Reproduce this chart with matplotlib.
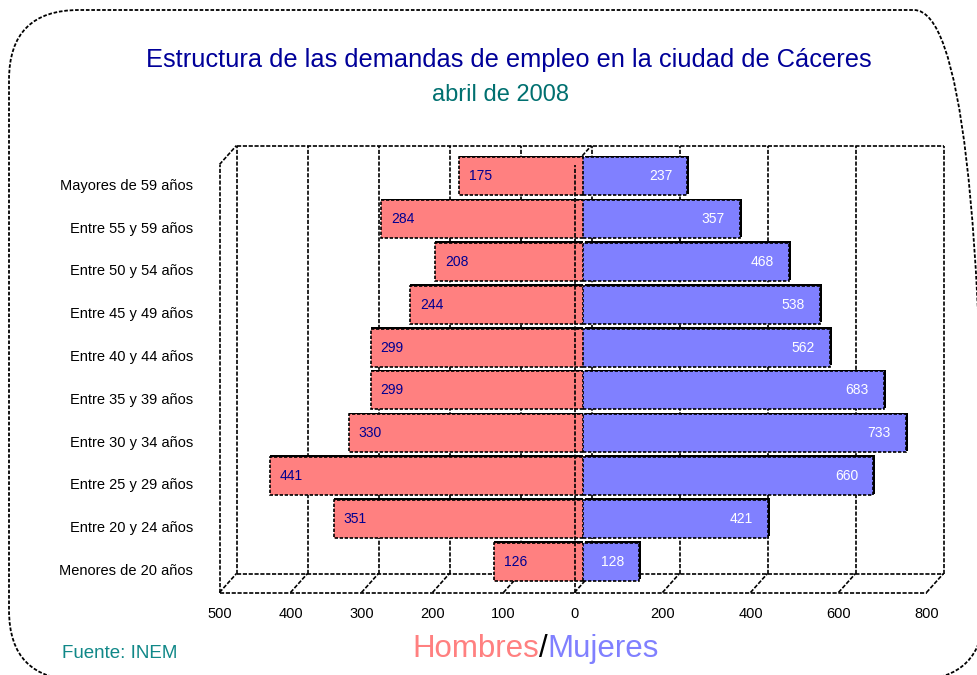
import matplotlib
matplotlib.use('Agg')
import matplotlib.pyplot as plt
from matplotlib.patches import FancyBboxPatch
from matplotlib.transforms import ScaledTranslation

plt.rcParams['font.family'] = ['Liberation Sans', 'DejaVu Sans']

# datos (de abajo hacia arriba)
grupos = ['Menores de 20 años', 'Entre 20 y 24 años', 'Entre 25 y 29 años',
          'Entre 30 y 34 años', 'Entre 35 y 39 años', 'Entre 40 y 44 años',
          'Entre 45 y 49 años', 'Entre 50 y 54 años', 'Entre 55 y 59 años',
          'Mayores de 59 años']
hombres = [126, 351, 441, 330, 299, 299, 244, 208, 284, 175]
mujeres = [128, 421, 660, 733, 683, 562, 538, 468, 357, 237]
ticks_h = [500, 400, 300, 200, 100, 0]
ticks_m = [0, 200, 400, 600, 800]

W, H = 978, 675
col_h = '#FF8080'
col_m = '#8080FF'
DX, DY = 8.5, 9.5  # profundidad del efecto 3D (px)
ls_frame = (0, (2.5, 1))

fig = plt.figure(figsize=(W / 100, H / 100), dpi=100)
fig.patch.set_facecolor('white')

# fondo en coordenadas de pixel
bg = fig.add_axes([0, 0, 1, 1], zorder=0)
bg.set_xlim(0, W)
bg.set_ylim(0, H)
bg.axis('off')

# marco redondeado
r = 70
bg.add_patch(FancyBboxPatch((9 + r, -5 + r), 975 - 2 * r, 670 - 2 * r,
                            boxstyle='round,pad=%d' % r, fc='none', ec='black',
                            lw=1.3, ls=(0, (2, 1)), clip_on=False))

y0 = 1 - 583 / H
hgt = 428 / H
ax_h = fig.add_axes([228 / W, y0, 355 / W, hgt], zorder=2)
ax_m = fig.add_axes([583 / W, y0, 352 / W, hgt], zorder=2)
for ax in (ax_h, ax_m):
    ax.set_ylim(-0.5, 9.5)
    ax.axis('off')
    ax.patch.set_alpha(0)
ax_h.set_xlim(500, 0)
ax_m.set_xlim(0, 800)


def P(ax, x, y, d):
    X, Y = ax.transData.transform((x, y))
    return X + d * DX, Y + d * DY


def seg(a, b, **kw):
    bg.plot([a[0], b[0]], [a[1], b[1]], color='black', lw=1.2, ls=ls_frame,
            solid_capstyle='butt', **kw)


# pared del fondo
seg(P(ax_h, 500, 9.5, 1), P(ax_m, 800, 9.5, 1))
seg(P(ax_h, 500, -0.5, 1), P(ax_m, 800, -0.5, 1))
for t in ticks_h:
    seg(P(ax_h, t, -0.5, 1), P(ax_h, t, 9.5, 1))
for t in ticks_m[1:]:
    seg(P(ax_m, t, -0.5, 1), P(ax_m, t, 9.5, 1))
# suelo
seg(P(ax_h, 500, -0.5, -1), P(ax_m, 800, -0.5, -1))
for t in ticks_h:
    seg(P(ax_h, t, -0.5, -1), P(ax_h, t, -0.5, 1))
for t in ticks_m[1:]:
    seg(P(ax_m, t, -0.5, -1), P(ax_m, t, -0.5, 1))
# pared izquierda
seg(P(ax_h, 500, -0.5, -1), P(ax_h, 500, 9.5, -1))
seg(P(ax_h, 500, 9.5, -1), P(ax_h, 500, 9.5, 1))
seg(P(ax_h, 0, 9.5, -1), P(ax_h, 0, 9.5, 1))

# barras
y = list(range(len(grupos)))
sh = ScaledTranslation(0.02, 0.015, fig.dpi_scale_trans)
ax_h.barh(y, hombres, height=0.89, color='black',
          transform=ax_h.transData + ScaledTranslation(0, 0.015, fig.dpi_scale_trans),
          zorder=1)
ax_m.barh(y, mujeres, height=0.89, color='black', transform=ax_m.transData + sh, zorder=1)
ax_h.barh(y, hombres, height=0.89, color=col_h, edgecolor='black', lw=1.2,
          ls=(0, (2, 1)), zorder=2)
ax_m.barh(y, mujeres, height=0.89, color=col_m, edgecolor='black', lw=1.2,
          ls=(0, (2, 1)), zorder=2)

# linea del cero (frontal)
f = ScaledTranslation(-DX / 100, -DY / 100, fig.dpi_scale_trans)
ax_m.plot([0, 0], [-0.5, 9.5], color='black', lw=1.2, ls=ls_frame,
          transform=ax_m.transData + f, clip_on=False, zorder=3)

# etiquetas de valores
off_h = ScaledTranslation(0.10, 0, fig.dpi_scale_trans)
off_m = ScaledTranslation(-0.15, 0, fig.dpi_scale_trans)
for i in y:
    ax_h.text(hombres[i], i, str(hombres[i]), ha='left', va='center',
              fontsize=10, color='#000090', transform=ax_h.transData + off_h,
              zorder=4)
    ax_m.text(mujeres[i], i, str(mujeres[i]), ha='right', va='center',
              fontsize=10, color='white', transform=ax_m.transData + off_m,
              zorder=4)

# etiquetas de categorias
for i, g in enumerate(grupos):
    xx, yy = P(ax_h, 500, i, -1)
    bg.text(193, yy, g, ha='right', va='center', fontsize=10.5,
            color='black')

# etiquetas del eje
for t in ticks_h:
    xx, yy = P(ax_h, t, -0.5, -1)
    bg.text(xx, yy - 22, str(t), ha='center', va='center', fontsize=10.5)
for t in ticks_m[1:]:
    xx, yy = P(ax_m, t, -0.5, -1)
    bg.text(xx, yy - 22, str(t), ha='center', va='center', fontsize=10.5)

# titulos
bg.text(509, H - 60, 'Estructura de las demandas de empleo en la ciudad de Cáceres',
        ha='center', va='center', fontsize=18.3, color='#000099')
bg.text(500, H - 95, 'abril de 2008', ha='center', va='center', fontsize=17,
        color='#007070')
bg.text(62, H - 653, 'Fuente: INEM', ha='left', va='center', fontsize=13.5,
        color='#108888')

bg.text(539, H - 657, 'Hombres', ha='right', va='baseline', fontsize=22.5,
        color=col_h)
bg.text(543, H - 657, '/', ha='center', va='baseline', fontsize=22.5,
        color='black')
bg.text(547.5, H - 657, 'Mujeres', ha='left', va='baseline', fontsize=22.5,
        color=col_m)

fig.savefig('out.png', dpi=100)
